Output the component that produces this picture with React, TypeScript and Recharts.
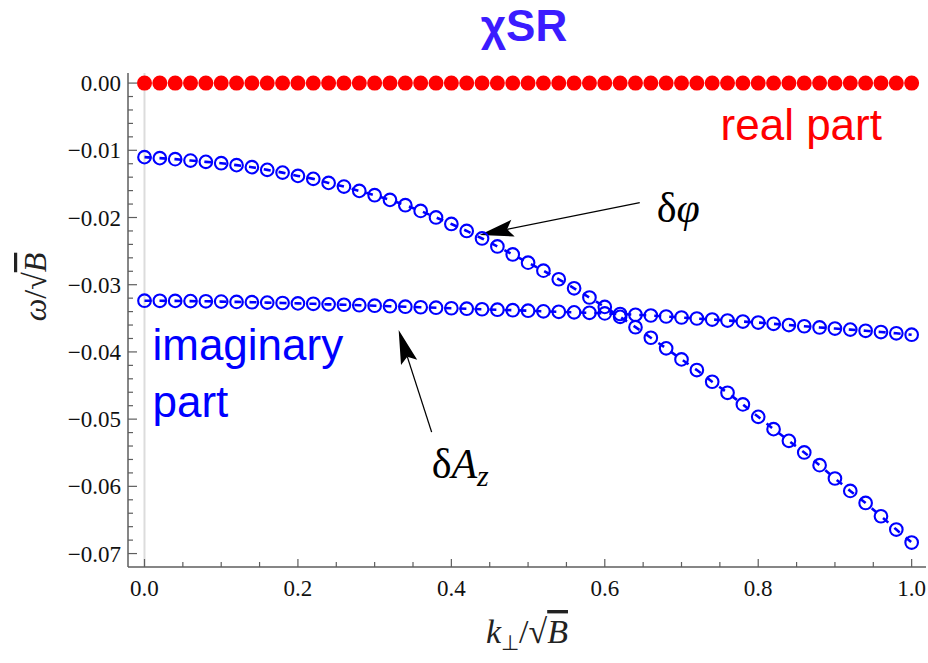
import React from "react";
import { LineChart, Line, XAxis, YAxis, ReferenceLine, ReferenceDot, Label } from "recharts";

const W = 928;
const H = 663;

// k_perp / sqrt(B) grid
const kPerp = [
  0, 0.02, 0.04, 0.06, 0.08, 0.1, 0.12, 0.14, 0.16, 0.18,
  0.2, 0.22, 0.24, 0.26, 0.28, 0.3, 0.32, 0.34, 0.36, 0.38,
  0.4, 0.42, 0.44, 0.46, 0.48, 0.5, 0.52, 0.54, 0.56, 0.58,
  0.6, 0.62, 0.64, 0.66, 0.68, 0.7, 0.72, 0.74, 0.76, 0.78,
  0.8, 0.82, 0.84, 0.86, 0.88, 0.9, 0.92, 0.94, 0.96, 0.98, 1.0,
];

// real part of omega / sqrt(B)
const realPart = [
  0, 0, 0, 0, 0, 0, 0, 0, 0, 0,
  0, 0, 0, 0, 0, 0, 0, 0, 0, 0,
  0, 0, 0, 0, 0, 0, 0, 0, 0, 0,
  0, 0, 0, 0, 0, 0, 0, 0, 0, 0,
  0, 0, 0, 0, 0, 0, 0, 0, 0, 0, 0,
];

// imaginary part, delta-phi branch
const deltaPhi = [
  -0.01102, -0.01117, -0.01132, -0.01153, -0.01172, -0.01192, -0.01221, -0.01251, -0.01291, -0.01332,
  -0.01381, -0.01425, -0.01485, -0.0154, -0.01604, -0.01668, -0.01738, -0.01817, -0.01902, -0.01999,
  -0.02096, -0.022, -0.02312, -0.02431, -0.0255, -0.02672, -0.02791, -0.02919, -0.03053, -0.0319,
  -0.0333, -0.03478, -0.03632, -0.03789, -0.03947, -0.04111, -0.0427, -0.04444, -0.04608, -0.04781,
  -0.04966, -0.05149, -0.05323, -0.05496, -0.05685, -0.05883, -0.06068, -0.06247, -0.06445, -0.06643, -0.06836,
];

// imaginary part, delta-A_z branch
const deltaAz = [
  -0.03238, -0.03239, -0.03241, -0.03244, -0.03247, -0.03251, -0.03256, -0.0326, -0.03266, -0.03272,
  -0.03278, -0.03284, -0.03292, -0.03298, -0.03305, -0.03312, -0.0332, -0.03327, -0.03335, -0.03342,
  -0.0335, -0.03357, -0.03365, -0.03372, -0.03379, -0.03387, -0.03396, -0.03403, -0.03411, -0.03418,
  -0.03427, -0.03436, -0.03447, -0.03458, -0.03473, -0.03488, -0.03503, -0.03518, -0.03533, -0.03548,
  -0.03563, -0.03582, -0.036, -0.03618, -0.03636, -0.03652, -0.03668, -0.03686, -0.03704, -0.03723, -0.03744,
];

const xMajor = [0, 0.2, 0.4, 0.6, 0.8, 1.0];
const yMajor = [0, -0.01, -0.02, -0.03, -0.04, -0.05, -0.06, -0.07];
const xTicks = Array.from({ length: 21 }, (_, i) => +(i * 0.05).toFixed(3));
const yTicks = Array.from({ length: 36 }, (_, i) => -+(i * 0.002).toFixed(3));

const data = kPerp.map((k, i) => ({ k, re: realPart[i], phi: deltaPhi[i], az: deltaAz[i] }));

const FRAME = "#5e5e5e";
const BLUE = "#0000ff";
const RED = "#ff0000";
const SERIF = "'Liberation Serif', 'Times New Roman', serif";
const SANS = "'Liberation Sans', Arial, sans-serif";
const TICK_FS = 23;

const isMajor = (v: number, list: number[]) => list.some((m) => Math.abs(m - v) < 1e-9);
const yFmt = (v: number) => (Math.abs(v) < 1e-9 ? "0.00" : "\u2212" + Math.abs(v).toFixed(2));

const BottomTick = ({ x, y, payload }: any) => {
  const major = isMajor(payload.value, xMajor);
  return (
    <g>
      <line x1={x} x2={x} y1={y} y2={y - (major ? 8 : 5)} stroke={FRAME} strokeWidth={1.2} />
      {major && (
        <text x={x} y={y + 29} textAnchor="middle" fontFamily={SERIF} fontSize={TICK_FS} fill="#111">
          {payload.value.toFixed(1)}
        </text>
      )}
    </g>
  );
};

const TopTick = ({ x, y, payload }: any) => {
  const major = isMajor(payload.value, xMajor);
  return <line x1={x} x2={x} y1={y} y2={y + (major ? 8 : 5)} stroke={FRAME} strokeWidth={1.2} />;
};

const LeftTick = ({ x, y, payload }: any) => {
  const major = isMajor(payload.value, yMajor);
  return (
    <g>
      <line x1={x} x2={x + (major ? 9 : 5)} y1={y} y2={y} stroke={FRAME} strokeWidth={1.2} />
      {major && (
        <text x={x - 7} y={y} dy="0.35em" textAnchor="end" fontFamily={SERIF} fontSize={TICK_FS} fill="#111">
          {yFmt(payload.value)}
        </text>
      )}
    </g>
  );
};

const RightTick = ({ x, y, payload }: any) => {
  const major = isMajor(payload.value, yMajor);
  return <line x1={x} x2={x - (major ? 9 : 5)} y1={y} y2={y} stroke={FRAME} strokeWidth={1.2} />;
};

// thin arrow with a filled, slightly notched head
const Arrow = (p: any) => {
  const { x1, y1, x2, y2 } = p;
  const dx = x2 - x1;
  const dy = y2 - y1;
  const len = Math.hypot(dx, dy);
  const ux = dx / len;
  const uy = dy / len;
  const head = 34;
  const half = 8.5;
  const bx = x2 - ux * head;
  const by = y2 - uy * head;
  const nx = -uy;
  const ny = ux;
  const pts = [
    [x2, y2],
    [bx + nx * half, by + ny * half],
    [bx + ux * 6, by + uy * 6],
    [bx - nx * half, by - ny * half],
  ]
    .map((q) => q.join(","))
    .join(" ");
  return (
    <g>
      <line x1={x1} y1={y1} x2={bx + ux * 6} y2={by + uy * 6} stroke="#000" strokeWidth={1.3} />
      <polygon points={pts} fill="#000" />
    </g>
  );
};

const textAt = (render: (cx: number, cy: number) => React.ReactNode) => (p: any) => <g>{render(p.cx, p.cy)}</g>;

const XLabel = ({ viewBox }: any) => {
  const cx = viewBox.x + viewBox.width / 2;
  return (
    <text x={cx} y={viewBox.y + 76} textAnchor="middle" fontFamily={SERIF} fontSize={34} fill="#222">
      <tspan fontStyle="italic">k</tspan>
      <tspan fontSize={21} dy={7}>⊥</tspan>
      <tspan dy={-7}>/√</tspan>
      <tspan fontStyle="italic" textDecoration="overline">B</tspan>
    </text>
  );
};

const YLabel = () => (
  <text
    transform="translate(46, 287) rotate(-90)"
    textAnchor="middle"
    fontFamily={SERIF}
    fontSize={32}
    fill="#222"
  >
    <tspan fontStyle="italic">ω</tspan>
    <tspan>/√</tspan>
    <tspan fontStyle="italic" textDecoration="overline">B</tspan>
  </text>
);

const openCircle = { r: 6.3, fill: "none", stroke: BLUE, strokeWidth: 2.1, strokeDasharray: "none" };

export default function App() {
  return (
    <div style={{ position: "absolute", left: 0, top: 0, width: W, height: H, background: "#fff" }}>
      <svg width={W} height={64} style={{ position: "absolute", left: 0, top: 0 }}>
        <text x={524} y={41} textAnchor="middle" fontFamily={SANS} fontWeight="bold" fontSize={44} fill="#3b1cff">
          χSR
        </text>
      </svg>
      <LineChart width={W} height={H} data={data} margin={{ top: 73, right: 2, bottom: 0, left: 0 }}>
        <XAxis
          dataKey="k"
          type="number"
          domain={[-0.0215, 1.0187]}
          allowDataOverflow
          ticks={xTicks}
          interval={0}
          tickSize={0}
          tickMargin={0}
          tick={<BottomTick />}
          height={96}
          axisLine={{ stroke: FRAME, strokeWidth: 1.5 }}
        >
          <Label content={<XLabel />} />
        </XAxis>
        <XAxis
          xAxisId="top"
          orientation="top"
          dataKey="k"
          type="number"
          domain={[-0.0215, 1.0187]}
          allowDataOverflow
          ticks={xTicks}
          interval={0}
          tickSize={0}
          tickMargin={0}
          tick={<TopTick />}
          height={0}
          axisLine={{ stroke: FRAME, strokeWidth: 1.5 }}
        />
        <YAxis
          type="number"
          domain={[-0.072, 0.0015]}
          allowDataOverflow
          ticks={yTicks}
          interval={0}
          tickSize={0}
          tickMargin={0}
          tick={<LeftTick />}
          width={128}
          axisLine={{ stroke: FRAME, strokeWidth: 1.5 }}
        >
          <Label content={<YLabel />} />
        </YAxis>
        <YAxis
          yAxisId="right"
          orientation="right"
          type="number"
          domain={[-0.072, 0.0015]}
          allowDataOverflow
          ticks={yTicks}
          interval={0}
          tickSize={0}
          tickMargin={0}
          tick={<RightTick />}
          width={0}
          axisLine={{ stroke: FRAME, strokeWidth: 1.5 }}
        />

        <ReferenceLine x={0} stroke="#dcdcdc" strokeWidth={2} />

        <Line
          dataKey="phi"
          stroke={BLUE}
          strokeWidth={2.6}
          strokeDasharray="7 8"
          dot={openCircle}
          isAnimationActive={false}
        />
        <Line
          dataKey="az"
          stroke={BLUE}
          strokeWidth={2.6}
          strokeDasharray="7 8"
          dot={openCircle}
          isAnimationActive={false}
        />
        <Line
          dataKey="re"
          stroke="none"
          strokeWidth={0}
          dot={{ r: 7.5, fill: RED, stroke: "none" }}
          isAnimationActive={false}
        />

        <ReferenceLine segment={[{ x: 0.6456, y: -0.01778 }, { x: 0.4369, y: -0.02259 }]} shape={Arrow} />
        <ReferenceLine segment={[{ x: 0.3743, y: -0.05193 }, { x: 0.3313, y: -0.03674 }]} shape={Arrow} />

        <ReferenceDot
          x={0.9613}
          y={-0.00845}
          r={0}
          shape={textAt((cx, cy) => (
            <text x={cx} y={cy} textAnchor="end" fontFamily={SANS} fontSize={44} fill={RED}>
              real part
            </text>
          ))}
        />
        <ReferenceDot
          x={0.0104}
          y={-0.04121}
          r={0}
          shape={textAt((cx, cy) => (
            <text x={cx} y={cy} fontFamily={SANS} fontSize={44} fill={BLUE}>
              <tspan x={cx}>imaginary</tspan>
              <tspan x={cx} dy={57}>part</tspan>
            </text>
          ))}
        />
        <ReferenceDot
          x={0.6678}
          y={-0.02066}
          r={0}
          shape={textAt((cx, cy) => (
            <text x={cx} y={cy} fontFamily={SERIF} fontSize={42} fill="#000">
              <tspan>δ</tspan>
              <tspan fontStyle="italic">φ</tspan>
            </text>
          ))}
        />
        <ReferenceDot
          x={0.3743}
          y={-0.05879}
          r={0}
          shape={textAt((cx, cy) => (
            <text x={cx} y={cy} fontFamily={SERIF} fontSize={42} fill="#000">
              <tspan>δ</tspan>
              <tspan fontStyle="italic">A</tspan>
              <tspan fontStyle="italic" fontSize={30} dy={8}>z</tspan>
            </text>
          ))}
        />
      </LineChart>
    </div>
  );
}
